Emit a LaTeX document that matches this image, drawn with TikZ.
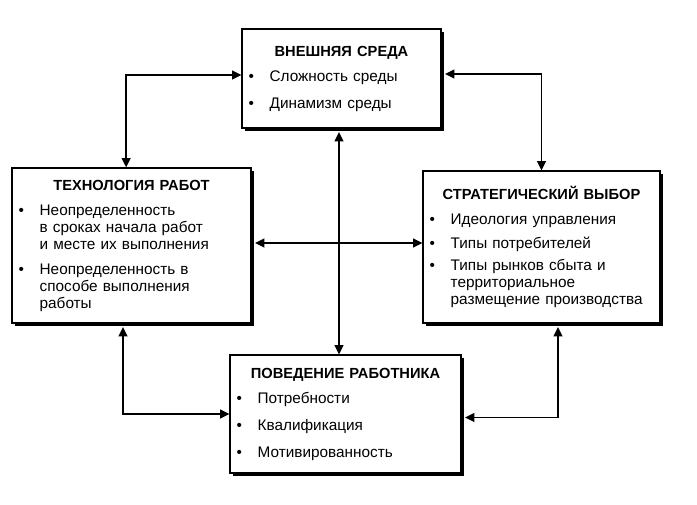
\documentclass[tikz,border=0pt]{standalone}
\usepackage{fontspec}
\setmainfont{Liberation Sans}
\usetikzlibrary{arrows.meta,shadows}

\newcommand{\boxtitle}[1]{{\noindent\centering\fontsize{11pt}{12.75pt}\selectfont\bfseries #1\par}}
\newcommand{\bul}[2][6pt]{\par\vspace{#1}\noindent\hangindent=15.75pt\hangafter=1\makebox[15.75pt][l]{\textbullet}#2\par}

\tikzset{
  blok/.style={draw, line width=0.8pt, fill=white, inner xsep=5pt, inner ysep=3pt, align=left,
    font=\fontsize{11.5pt}{12.75pt}\selectfont,
    drop shadow={shadow xshift=2.6pt, shadow yshift=-2.6pt, opacity=1, fill=black}},
  svyaz/.style={line width=1.4pt, {Triangle[length=7pt,width=6.5pt]}-{Triangle[length=7pt,width=6.5pt]}}
}

\begin{document}
\begin{tikzpicture}[x=0.75pt, y=-0.75pt]
        \useasboundingbox (0,0) rectangle (697,505);

        % Внешняя среда
        \node[blok, text width=139.25pt, minimum height=74.25pt] (sreda) at (341.5,78.5) {
          \boxtitle{ВНЕШНЯЯ СРЕДА}
          \bul{Сложность среды}
          \bul[7.5pt]{Динамизм среды}};

        % Технология работ
        \node[blok, text width=169.25pt, minimum height=116.25pt] (tekh) at (131.5,245.5) {
          \boxtitle{ТЕХНОЛОГИЯ РАБОТ}
          \bul{Неопределенность\newline в сроках начала работ\newline и месте их выполнения}
          \bul{Неопределенность в\newline способе выполнения\newline работы}};

        % Стратегический выбор
        \node[blok, text width=167.75pt, minimum height=114pt] (strat) at (541.5,247) {
          \boxtitle{СТРАТЕГИЧЕСКИЙ ВЫБОР}
          \bul[6.5pt]{Идеология управления}
          \bul[5.25pt]{Типы потребителей}
          \bul[3.75pt]{Типы рынков сбыта и\newline территориальное\newline размещение производства}};

        % Поведение работника
        \node[blok, text width=163.25pt, minimum height=88.5pt] (povedenie) at (345.5,414) {
          \boxtitle{ПОВЕДЕНИЕ РАБОТНИКА}
          \bul{Потребности}
          \bul[7.5pt]{Квалификация}
          \bul[7.5pt]{Мотивированность}};

        % Связи
        \draw[svyaz] ([yshift=2.6pt]sreda.west) -| ([xshift=-4pt]tekh.north);
        \draw[svyaz] ([xshift=2.6pt,yshift=3.4pt]sreda.east) -| (strat.north);
        \draw[svyaz] ([xshift=-1.9pt,yshift=-2.6pt]sreda.south) -- ([xshift=-1.9pt]sreda.south |- povedenie.north);
        \draw[svyaz] ([xshift=2.6pt,yshift=1.9pt]tekh.east) -- ([yshift=1.9pt]tekh.east -| strat.west);
        \draw[svyaz] ([xshift=-6.4pt,yshift=-2.6pt]tekh.south) |- (povedenie.west);
        \draw[svyaz] ([xshift=2.6pt,yshift=-2.6pt]povedenie.east) -| ([xshift=12.4pt,yshift=-2.6pt]strat.south);
    \end{tikzpicture}
\end{document}
